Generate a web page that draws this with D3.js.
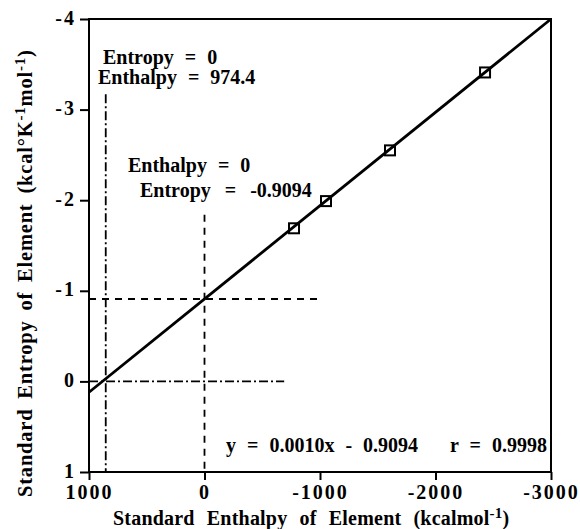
<!DOCTYPE html>
<html>
<head>
<meta charset="utf-8">
<script src="https://cdn.jsdelivr.net/npm/d3@7"></script>
<style>
  body { margin: 0; background: #fff; }
  text { font-family: "Liberation Serif", "Times New Roman", serif; font-weight: bold; fill: #000; }
  .tick text { font-size: 20px; letter-spacing: 2px; }
  .tick line { stroke: #000; stroke-width: 2; }
</style>
</head>
<body>
<script>
// ---- data ----
var enthalpy = [-775, -1052, -1606, -2429];      // kcal/mol
var entropy = [-1.69, -1.99, -2.55, -3.41];      // kcal/K/mol

// regression line end points
var fitX = [1000, -3000];
var fitY = [0.12, -4.0];

// reference lines: [x1, y1, x2, y2]
var dashedLines = [[1000, -0.9094, -990, -0.9094], [0, -1.84, 0, 1]];
var dashDotLines = [[1000, 0, -690, 0], [855, -3.17, 855, 1]];

var xTicks = [1000, 0, -1000, -2000, -3000];
var yTicks = [1, 0, -1, -2, -3, -4];

var w = 580, h = 529;
var svg = d3.select("body").append("svg")
    .attr("width", w)
    .attr("height", h);

var x = d3.scaleLinear().domain([1000, -3000]).range([89, 551]);
var y = d3.scaleLinear().domain([1, -4]).range([472, 19]);

var fmt = function(d){ return d < 0 ? "-" + Math.abs(d) : String(d); };

//axes
svg.append("g")
    .attr("transform", "translate(0," + y(1) + ")")
    .call(d3.axisBottom(x).tickValues(xTicks).tickSize(8).tickSizeOuter(0).tickFormat(fmt))
    .call(function(g){ g.selectAll(".tick text").attr("y", 27).attr("dy", 0); });

svg.append("g")
    .attr("transform", "translate(" + x(1000) + ",0)")
    .call(d3.axisLeft(y).tickValues(yTicks).tickSize(9).tickSizeOuter(0).tickFormat(fmt))
    .call(function(g){ g.selectAll(".tick text").attr("x", -13).attr("dy", "0.25em"); });

svg.selectAll(".domain").remove();

//frame
svg.append("rect")
    .attr("x", x(1000))
    .attr("y", y(-4))
    .attr("width", x(-3000) - x(1000))
    .attr("height", y(1) - y(-4))
    .attr("fill", "none")
    .attr("stroke", "#000")
    .attr("stroke-width", 2);

//reference lines
function refLines(data, dash){
    svg.selectAll(null)
        .data(data)
        .enter()
        .append("line")
        .attr("x1", function(d){ return x(d[0]); })
        .attr("y1", function(d){ return y(d[1]); })
        .attr("x2", function(d){ return x(d[2]); })
        .attr("y2", function(d){ return y(d[3]); })
        .attr("stroke", "#000")
        .attr("stroke-width", 1.8)
        .attr("stroke-dasharray", dash);
}
refLines(dashedLines, "7,6");
refLines(dashDotLines, "9,3,2,3");

//fit line
svg.append("line")
    .attr("x1", x(fitX[0])).attr("y1", y(fitY[0]))
    .attr("x2", x(fitX[1])).attr("y2", y(fitY[1]))
    .attr("stroke", "#000")
    .attr("stroke-width", 2.8);

//square markers
svg.selectAll(".pt")
    .data(enthalpy)
    .enter()
    .append("rect")
    .attr("class", "pt")
    .attr("x", function(d){ return x(d) - 5; })
    .attr("y", function(d, i){ return y(entropy[i]) - 5; })
    .attr("width", 10)
    .attr("height", 10)
    .attr("fill", "none")
    .attr("stroke", "#000")
    .attr("stroke-width", 2);

//annotations
function label(tx, ty, str, ws){
    svg.append("text")
        .attr("x", tx)
        .attr("y", ty)
        .style("font-size", "20px")
        .style("word-spacing", (ws || 6) + "px")
        .text(str);
}
label(103, 64, "Entropy = 0");
label(98, 84, "Enthalpy = 974.4");
label(128, 172, "Enthalpy = 0");
label(140, 197, "Entropy = -0.9094", 9);
label(226, 452, "y = 0.0010x - 0.9094");
label(450, 452, "r = 0.9998");

//x title
var xt = svg.append("text")
    .attr("x", 113)
    .attr("y", 525)
    .style("font-size", "20px")
    .style("letter-spacing", "0.2px")
    .style("word-spacing", "7px");
xt.append("tspan").text("Standard Enthalpy of Element (kcalmol");
xt.append("tspan").attr("dy", -7).style("font-size", "15px").text("-1");
xt.append("tspan").attr("dy", 7).text(")");

//y title
var yt = svg.append("text")
    .attr("transform", "translate(32,497) rotate(-90)")
    .style("font-size", "20.5px")
    .style("letter-spacing", "0.8px")
    .style("word-spacing", "4px");
yt.append("tspan").text("Standard Entropy of Element (kcal°K");
yt.append("tspan").attr("dy", -7).style("font-size", "15px").text("-1");
yt.append("tspan").attr("dy", 7).text("mol");
yt.append("tspan").attr("dy", -7).style("font-size", "15px").text("-1");
yt.append("tspan").attr("dy", 7).text(")");
</script>
</body>
</html>
